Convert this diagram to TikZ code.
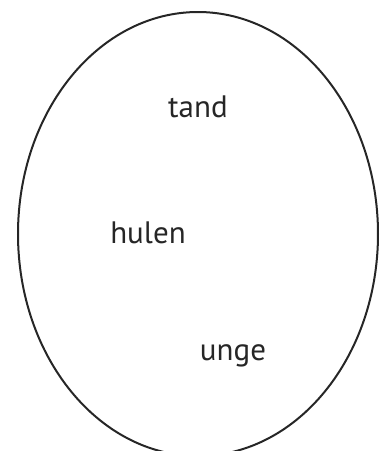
\documentclass[tikz,border=0pt]{standalone}
\usepackage{fontspec}
\setmainfont{PT Sans}
\usetikzlibrary{positioning}
\begin{document}
\begin{tikzpicture}[x=1pt, y=-1pt, Word/.style={font=\fontsize{31}{34}\selectfont, text=black!85, anchor=base, inner sep=0pt}]
		\useasboundingbox (0,0) rectangle (380,451);
		\draw[line width=2pt, black!85] (198,234) ellipse [x radius=180, y radius=222];
		\node[Word] (tand) at (198,117) {tand};
		\node[Word] (hulen) at (148,243) {hulen};
		\node[Word] (unge) at (233,360) {unge};
	\end{tikzpicture}
\end{document}
